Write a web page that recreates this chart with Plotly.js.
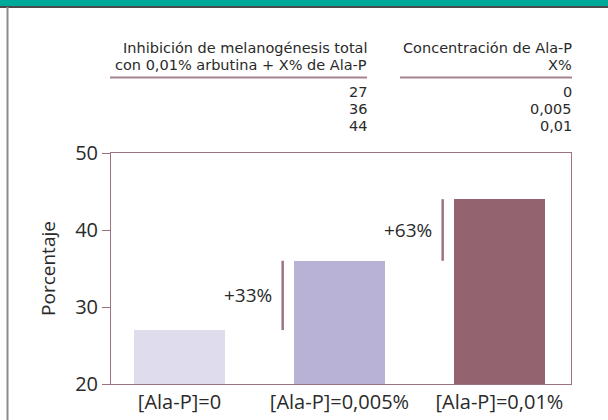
<!DOCTYPE html>
<html>
<head>
<meta charset="utf-8">
<script src="https://cdn.plot.ly/plotly-3.0.1.min.js"></script>
<style>html,body{margin:0;padding:0;background:#fff;}#chart{width:608px;height:420px;}</style>
</head>
<body>
<div id="chart"></div>
<script>
// ---- data ----
const categories = ['[Ala-P]=0', '[Ala-P]=0,005%', '[Ala-P]=0,01%'];
const inhibition = [27, 36, 44];
const concentrations = ['0', '0,005', '0,01'];
const tableHeader1 = ['Inhibición de melanogénesis total', 'con 0,01% arbutina + X% de Ala-P'];
const tableHeader2 = ['Concentración de Ala-P', 'X%'];
const yTicks = [20, 30, 40, 50];
const barColors = ['#dfdcee', '#b9b2d7', '#93636f'];

// ---- layout constants ----
const W = 608, H = 420;
const M = {l: 111, r: 37, t: 153, b: 36};
const PW = W - M.l - M.r, PH = H - M.t - M.b;
const px = x => (x - M.l) / PW;           // pixel -> paper x
const py = y => (H - M.b - y) / PH;       // pixel -> paper y
const FONT = 'Open Sans, sans-serif';
const TFONT = 'DejaVu Sans, sans-serif';
const TXT = '#2a2a2a';
const MAUVE = '#9c7480';
const barWidth = 0.57;
const lineGap = 0.07;

const xs = categories.map((c, i) => i);

const trace = {
  type: 'bar',
  x: xs,
  y: inhibition,
  base: 0,
  width: barWidth,
  marker: {color: barColors, line: {width: 0}},
  hoverinfo: 'skip'
};

const shapes = [];
const annotations = [];

// increase markers between bars
for (let i = 1; i < inhibition.length; i++) {
  const lx = xs[i] - barWidth / 2 - lineGap;
  shapes.push({type: 'line', xref: 'x', yref: 'y', x0: lx, x1: lx,
    y0: inhibition[i - 1], y1: inhibition[i], line: {color: MAUVE, width: 2.5}});
  const pct = Math.round((inhibition[i] - inhibition[0]) / inhibition[0] * 100);
  annotations.push({xref: 'x', yref: 'y', x: lx, y: (inhibition[i - 1] + inhibition[i]) / 2,
    xanchor: 'right', yanchor: 'middle', xshift: -9, showarrow: false,
    text: '+' + pct + '%', font: {family: FONT, size: 19, color: TXT}});
}

// top table (one text per line, 17px leading as in the reference)
const col1Right = px(368), col2Right = px(573);
const hdrY = [48, 65], rowY = [92, 109, 126];
const cell = (x, y, t) => annotations.push({xref: 'paper', yref: 'paper', x: x, y: py(y),
  xanchor: 'right', yanchor: 'middle', align: 'right', valign: 'middle', borderpad: 0,
  showarrow: false, text: t, font: {family: TFONT, size: 14.5, color: TXT}});
tableHeader1.forEach((t, k) => cell(col1Right, hdrY[k], t));
tableHeader2.forEach((t, k) => cell(col2Right, hdrY[k], t));
inhibition.forEach((v, k) => cell(col1Right, rowY[k], String(v)));
concentrations.forEach((v, k) => cell(col2Right, rowY[k], v));

// table rules
shapes.push({type: 'line', xref: 'paper', yref: 'paper', x0: px(110), x1: px(367), y0: py(77.5), y1: py(77.5), line: {color: '#a8838e', width: 2}});
shapes.push({type: 'line', xref: 'paper', yref: 'paper', x0: px(400), x1: px(572), y0: py(77.5), y1: py(77.5), line: {color: '#a8838e', width: 2}});

// frame decorations: teal band, dark rule, left border
shapes.push({type: 'rect', xref: 'paper', yref: 'paper', x0: px(0), x1: px(W), y0: py(0), y1: py(6), fillcolor: '#00a99a', line: {width: 0}, layer: 'below'});
shapes.push({type: 'line', xref: 'paper', yref: 'paper', x0: px(0), x1: px(W), y0: py(7), y1: py(7), line: {color: '#4a4a4a', width: 2}});
shapes.push({type: 'line', xref: 'paper', yref: 'paper', x0: px(7.5), x1: px(7.5), y0: py(7), y1: py(H), line: {color: '#8c8c8c', width: 2}});

const layout = {
  width: W, height: H,
  margin: M,
  paper_bgcolor: '#ffffff', plot_bgcolor: '#ffffff',
  showlegend: false,
  font: {family: FONT, color: TXT},
  bargap: 0,
  xaxis: {
    range: [-0.428, 2.447], tickvals: xs, ticktext: categories,
    showgrid: false, zeroline: false, showline: true, mirror: true,
    linecolor: MAUVE, linewidth: 1, ticks: '', fixedrange: true,
    tickfont: {family: FONT, size: 20, color: TXT}
  },
  yaxis: {
    range: [20, 50], tickvals: yTicks, ticktext: yTicks.map(String),
    showgrid: false, zeroline: false, showline: true, mirror: true,
    linecolor: MAUVE, linewidth: 1, ticks: 'outside', ticklen: 8, tickcolor: MAUVE, tickwidth: 1,
    tickfont: {family: FONT, size: 20, color: TXT}, fixedrange: true,
    title: {text: 'Porcentaje', font: {family: FONT, size: 19, color: TXT}, standoff: 14}
  },
  shapes: shapes,
  annotations: annotations
};

Plotly.newPlot('chart', [trace], layout, {staticPlot: true, displayModeBar: false});
</script>
</body>
</html>
